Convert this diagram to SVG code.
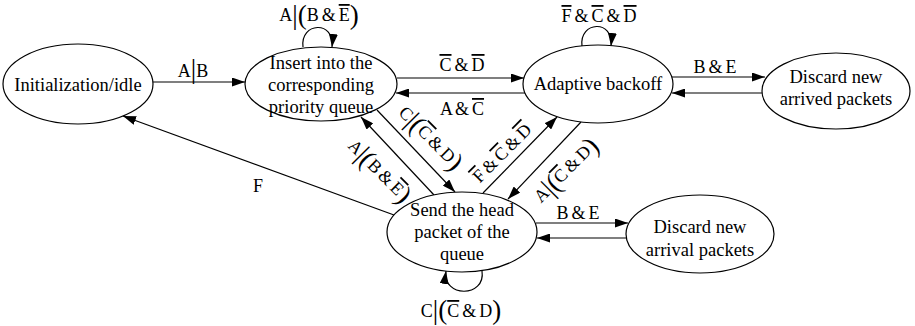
<svg xmlns="http://www.w3.org/2000/svg" width="915" height="326" viewBox="0 0 915 326">
  <defs>
    <marker id="arrow" markerUnits="userSpaceOnUse" viewBox="0 0 13 9" refX="13" refY="4.5" markerWidth="13" markerHeight="9" orient="auto">
      <path d="M0,0 L13,4.5 L0,9 Z" fill="#000"/>
    </marker>
    <style>
      text { font-family: "Liberation Serif", "Times New Roman", serif; fill: #000; text-anchor: middle; }
      .n { font-size: 18.5px; }
      .l { font-size: 18px; word-spacing: -1.5px; }
      .b { font-size: 27px; }
      .o { text-decoration: overline; }
      ellipse { fill: #fff; stroke: #000; stroke-width: 1.2; }
      .e { fill: none; stroke: #000; stroke-width: 1.2; marker-end: url(#arrow); }
    </style>
  </defs>
  <rect width="915" height="326" fill="#fff"/>

  <!-- transitions -->
  <g id="connectors">
    <line class="e" x1="153" y1="82" x2="245" y2="82"/>
    <line class="e" x1="397" y1="78" x2="524" y2="78"/>
    <line class="e" x1="525" y1="93" x2="396" y2="93"/>
    <line class="e" x1="672" y1="77" x2="765" y2="77"/>
    <line class="e" x1="762" y1="93" x2="672" y2="93"/>
    <line class="e" x1="536" y1="223" x2="628" y2="223"/>
    <line class="e" x1="627" y1="238" x2="537" y2="238"/>
    <line class="e" x1="394" y1="215" x2="123" y2="116"/>
    <line class="e" x1="434" y1="195" x2="361" y2="117"/>
    <line class="e" x1="377" y1="110" x2="455" y2="192"/>
    <line class="e" x1="483" y1="193" x2="557" y2="117"/>
    <line class="e" x1="581" y1="122" x2="508" y2="199"/>
    <path class="e" d="M303,47 C300,22 335,20 332,47"/>
    <path class="e" d="M582,46 C579,21 614,19 611,46"/>
    <path class="e" d="M482,271 C486,298 442,298 446,271"/>

    <!-- transition labels -->
    <text class="l" x="193" y="77">A<tspan class="b" dy="1">|</tspan><tspan dy="-1">B</tspan></text>
    <text class="l" x="319" y="21">A<tspan class="b" dy="3">|(</tspan><tspan dy="-3">B &amp; </tspan><tspan class="o">E</tspan><tspan class="b" dy="3">)</tspan></text>
    <text class="l" x="599" y="22"><tspan class="o">F</tspan> &amp; <tspan class="o">C</tspan> &amp; <tspan class="o">D</tspan></text>
    <text class="l" x="462" y="71"><tspan class="o">C</tspan> &amp; <tspan class="o">D</tspan></text>
    <text class="l" x="462" y="115">A &amp; <tspan class="o">C</tspan></text>
    <text class="l" x="715" y="73">B &amp; E</text>
    <text class="l" x="578" y="219">B &amp; E</text>
    <text class="l" x="258" y="192">F</text>
    <text class="l" x="461" y="317">C<tspan class="b" dy="2">|(</tspan><tspan class="o" dy="-2">C</tspan> &amp; D<tspan class="b" dy="2">)</tspan></text>
    <text class="l" transform="translate(378,172) rotate(45)" y="4">A<tspan class="b" dy="3">|(</tspan><tspan dy="-3">B &amp; </tspan><tspan class="o">E</tspan><tspan class="b" dy="3">)</tspan></text>
    <text class="l" transform="translate(429,139) rotate(45)" y="4">C<tspan class="b" dy="3">|(</tspan><tspan class="o" dy="-3">C</tspan> &amp; D<tspan class="b" dy="3">)</tspan></text>
    <text class="l" transform="translate(502,153) rotate(-45)" y="6"><tspan class="o">F</tspan> &amp; <tspan class="o">C</tspan> &amp; <tspan class="o">D</tspan></text>
    <text class="l" transform="translate(567,172) rotate(-45)" y="4">A<tspan class="b" dy="3">|(</tspan><tspan class="o" dy="-3">C</tspan> &amp; D<tspan class="b" dy="3">)</tspan></text>
  </g>

  <!-- states -->
  <g id="idle">
    <ellipse cx="78" cy="84" rx="75" ry="40"/>
    <text class="n" x="78" y="91">Initialization/idle</text>
  </g>
  <g id="insert">
    <ellipse cx="321" cy="84" rx="76" ry="37"/>
    <text class="n" x="321" y="69">Insert into the</text>
    <text class="n" x="321" y="91">corresponding</text>
    <text class="n" x="321" y="113">priority queue</text>
  </g>
  <g id="backoff">
    <ellipse cx="598" cy="84" rx="75" ry="39"/>
    <text class="n" x="598" y="90">Adaptive backoff</text>
  </g>
  <g id="discard-arrived">
    <ellipse cx="836" cy="91" rx="74" ry="38"/>
    <text class="n" x="836" y="83">Discard new</text>
    <text class="n" x="836" y="105">arrived packets</text>
  </g>
  <g id="send">
    <ellipse cx="462" cy="232" rx="75" ry="40"/>
    <text class="n" x="462" y="216">Send the head</text>
    <text class="n" x="462" y="238">packet of the</text>
    <text class="n" x="462" y="260">queue</text>
  </g>
  <g id="discard-arrival">
    <ellipse cx="700" cy="234" rx="74" ry="39"/>
    <text class="n" x="700" y="233">Discard new</text>
    <text class="n" x="700" y="256">arrival packets</text>
  </g>
</svg>
